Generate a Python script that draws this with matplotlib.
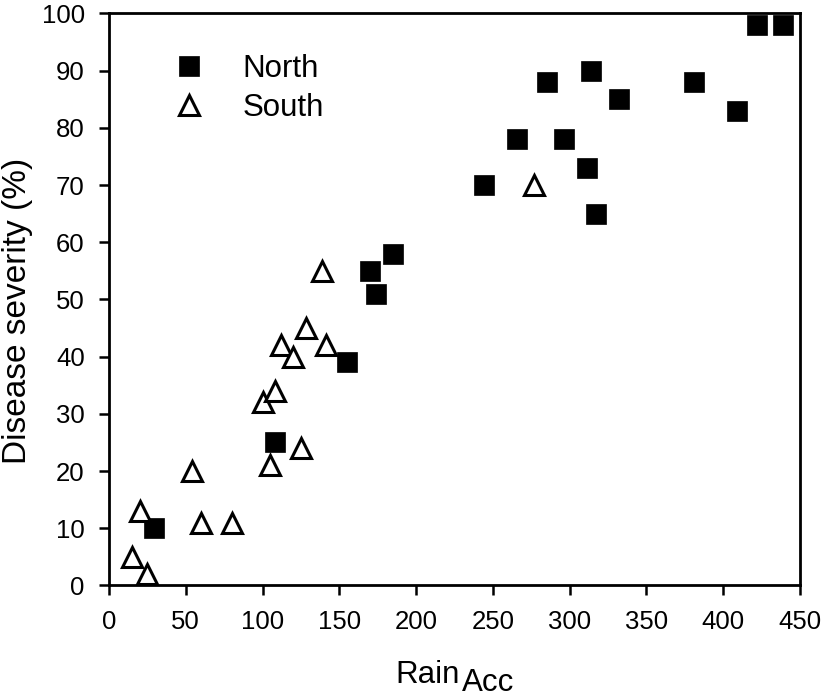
import matplotlib
matplotlib.use('Agg')
import matplotlib.pyplot as plt

# North region
north_x = [29, 108, 155, 174, 170, 185, 244, 266, 285, 314, 296, 332, 311, 317, 381, 409, 422, 439]
north_y = [10, 25, 39, 51, 55, 58, 70, 78, 88, 90, 78, 85, 73, 65, 88, 83, 98, 98]

# South region
south_x = [15, 25, 20, 54, 60, 80, 100, 108, 105, 125, 112, 120, 128, 141, 139, 277]
south_y = [5, 2, 13, 20, 11, 11, 32, 34, 21, 24, 42, 40, 45, 42, 55, 70]

x_ticks = list(range(0, 451, 50))
y_ticks = list(range(0, 101, 10))

plt.rcParams['font.family'] = ['Liberation Sans', 'DejaVu Sans']

fig = plt.figure(figsize=(8.23, 6.98), dpi=100)
ax = fig.add_axes([0.1324, 0.1612, 0.9721 - 0.1324, 0.9807 - 0.1612])

ax.plot(north_x, north_y, 's', color='black', markersize=15, mec='black',
        mew=0.5, label='North', zorder=3)
ax.plot(south_x, south_y, '^', color='black', markersize=14, mfc='white',
        mec='black', mew=2.2, label='South', zorder=3)

ax.set_xlim(0, 450)
ax.set_ylim(0, 100)
ax.set_xticks(x_ticks)
ax.set_yticks(y_ticks)

for s in ax.spines.values():
    s.set_linewidth(2.0)
ax.tick_params(direction='out', length=7, width=1.8, labelsize=18.5,
               colors='black')
ax.tick_params(axis='x', pad=11)
ax.tick_params(axis='y', pad=10.5)

ax.set_ylabel('Disease severity (%)', fontsize=24)
ax.yaxis.set_label_coords(-0.110, 0.48)

# x label with a same-size, lowered "Acc"
xl = ax.set_xlabel('Rain', fontsize=22.5)
ax.xaxis.set_label_coords(0.4617, -0.1303)
ax.annotate('Acc', xy=(1, 0), xycoords=xl, xytext=(1, -5.8),
            textcoords='offset points', fontsize=22.5, ha='left', va='bottom')

ax.legend(loc='upper left', bbox_to_anchor=(0.0932, 0.929), frameon=False,
          fontsize=22.5, handlelength=1, handletextpad=1.21, labelspacing=0.29,
          borderpad=0, borderaxespad=0, numpoints=1)

fig.savefig('out.png', dpi=100)
